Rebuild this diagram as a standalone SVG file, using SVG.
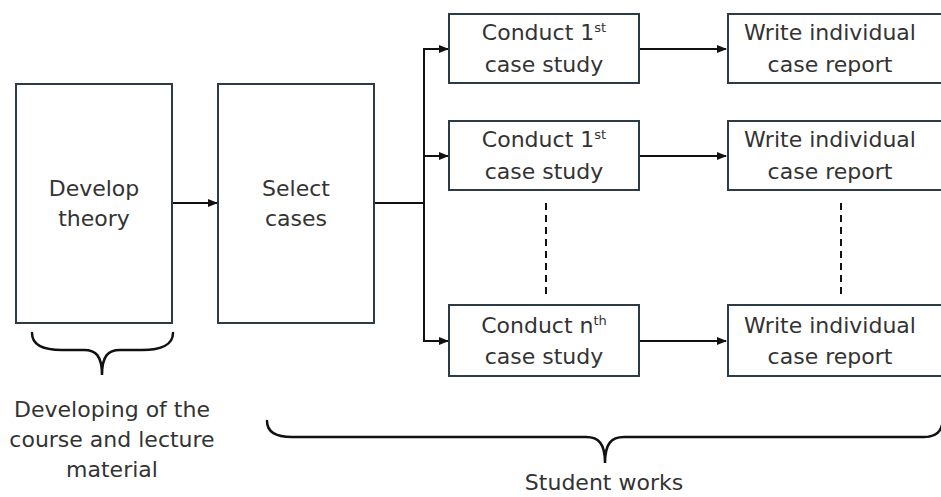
<svg xmlns="http://www.w3.org/2000/svg" width="941" height="497" viewBox="0 0 941 497">
<defs>
<style>
.box{fill:#fff;stroke:#2c3b45;stroke-width:2}
.t{font-family:"DejaVu Sans",sans-serif;font-size:22px;fill:#333;text-anchor:middle}
.sup{font-size:13px}
.ln{fill:none;stroke:#111;stroke-width:2}
.dash{fill:none;stroke:#111;stroke-width:2;stroke-dasharray:7 5}
.brace{fill:none;stroke:#111;stroke-width:2.5;stroke-linecap:round}
</style>
<marker id="ah" markerWidth="10" markerHeight="8" refX="9" refY="4" orient="auto" markerUnits="userSpaceOnUse">
<path d="M0,0 L10,4 L0,8 Z" fill="#111"/>
</marker>
</defs>
<rect width="941" height="497" fill="#fff"/>
<g id="connectors">
<line class="ln" x1="172" y1="203" x2="217" y2="203" marker-end="url(#ah)"/>
<polyline class="ln" points="374,203 424,203"/>
<line class="ln" x1="424" y1="48" x2="424" y2="342"/>
<line class="ln" x1="423" y1="49" x2="448" y2="49" marker-end="url(#ah)"/>
<line class="ln" x1="424" y1="156" x2="448" y2="156" marker-end="url(#ah)"/>
<line class="ln" x1="423" y1="341" x2="448" y2="341" marker-end="url(#ah)"/>
<line class="ln" x1="639" y1="49" x2="726" y2="49" marker-end="url(#ah)"/>
<line class="ln" x1="639" y1="156" x2="726" y2="156" marker-end="url(#ah)"/>
<line class="ln" x1="639" y1="341" x2="726" y2="341" marker-end="url(#ah)"/>
<line class="dash" x1="546" y1="203" x2="546" y2="294"/>
<line class="dash" x1="841" y1="203" x2="841" y2="294"/>
</g>
<g id="develop">
<rect class="box" x="16" y="84" width="156" height="239"/>
<text class="t" x="94" y="196">Develop</text>
<text class="t" x="94" y="226">theory</text>
</g>
<g id="select">
<rect class="box" x="218" y="84" width="156" height="239"/>
<text class="t" x="296" y="196">Select</text>
<text class="t" x="296" y="226">cases</text>
</g>
<g id="conduct1">
<rect class="box" x="449" y="14" width="190" height="69"/>
<text class="t" x="544" y="40">Conduct 1<tspan class="sup" dy="-8">st</tspan></text>
<text class="t" x="544" y="72">case study</text>
</g>
<g id="conduct2">
<rect class="box" x="449" y="121" width="190" height="69"/>
<text class="t" x="544" y="147">Conduct 1<tspan class="sup" dy="-8">st</tspan></text>
<text class="t" x="544" y="179">case study</text>
</g>
<g id="conductn">
<rect class="box" x="449" y="305" width="190" height="71"/>
<text class="t" x="544" y="333">Conduct n<tspan class="sup" dy="-8">th</tspan></text>
<text class="t" x="544" y="364">case study</text>
</g>
<g id="write1">
<rect class="box" x="728" y="14" width="220" height="69"/>
<text class="t" x="830" y="40">Write individual</text>
<text class="t" x="830" y="72">case report</text>
</g>
<g id="write2">
<rect class="box" x="728" y="121" width="220" height="69"/>
<text class="t" x="830" y="147">Write individual</text>
<text class="t" x="830" y="179">case report</text>
</g>
<g id="writen">
<rect class="box" x="728" y="305" width="220" height="71"/>
<text class="t" x="830" y="333">Write individual</text>
<text class="t" x="830" y="364">case report</text>
</g>
<g id="brace-course">
<path class="brace" d="M32,333 C32,344 42,350 62,350 L84,350 C96,350 102,356 102,375 C102,356 108,350 120,350 L142,350 C162,350 173,344 173,333"/>
<text class="t" x="112" y="417">Developing of the</text>
<text class="t" x="112" y="447">course and lecture</text>
<text class="t" x="112" y="477">material</text>
</g>
<g id="brace-student">
<path class="brace" d="M267,421 C267,432 275,437 292,437 L586,437 C599,437 605,444 605,463 C605,444 611,437 624,437 L924,437 C934,437 940,433 942,425"/>
<text class="t" x="604" y="490">Student works</text>
</g>
</svg>
